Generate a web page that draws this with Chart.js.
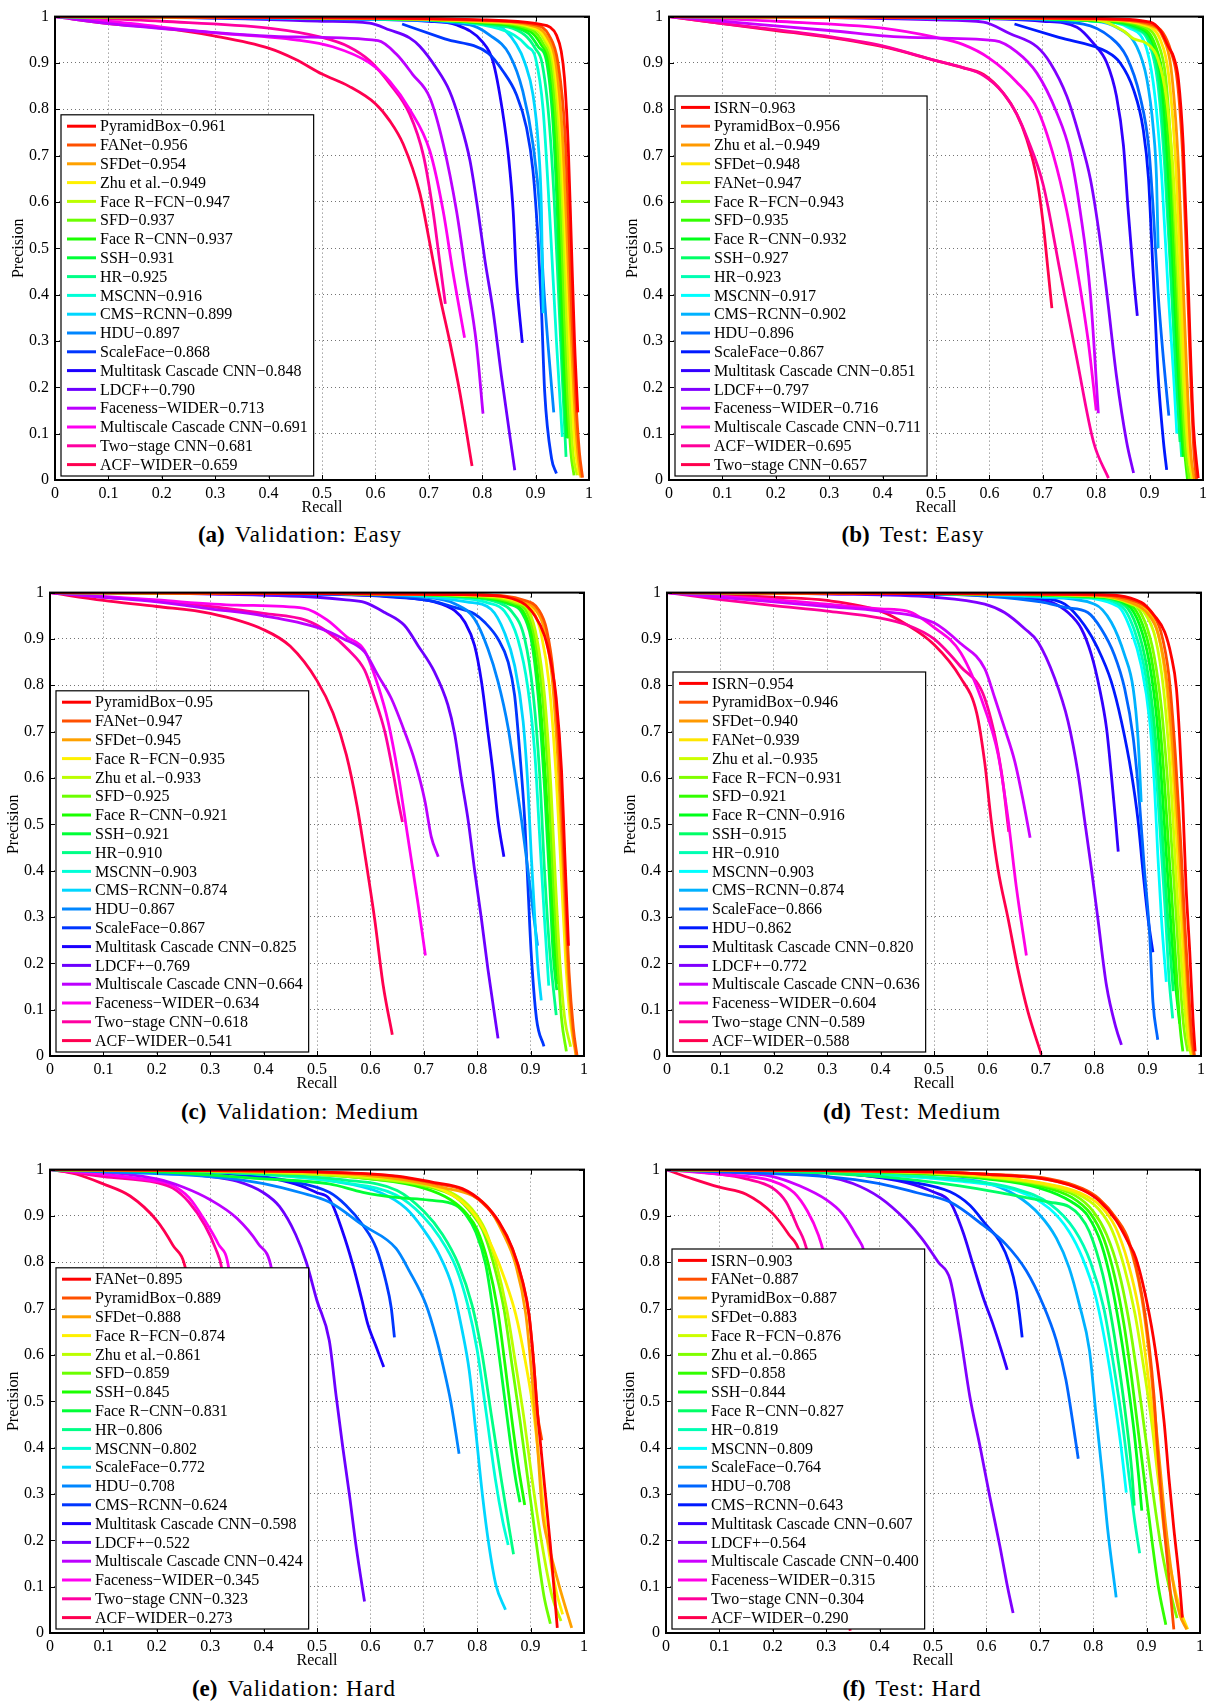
<!DOCTYPE html>
<html>
<head>
<meta charset="utf-8">
<script src="https://cdn.jsdelivr.net/npm/chart.js@4.4.1/dist/chart.umd.min.js"></script>
<style>
  body { margin: 0; background: #fff; width: 1208px; height: 1704px; position: relative; overflow: hidden; }
  canvas { position: absolute; }
  .cap { position: absolute; width: 600px; text-align: center; font-family: "Liberation Serif", "DejaVu Serif", serif;
         font-size: 23px; letter-spacing: 1px; color: #000; line-height: 28px; }
  .cap b { margin-right: 10px; letter-spacing: 0; }
</style>
</head>
<body>
<script>
// ---------- (a) Validation: Easy ----------
var valEasyNames = ['PyramidBox', 'FANet', 'SFDet', 'Zhu et al.', 'Face R\u2212FCN', 'SFD', 'Face R\u2212CNN', 'SSH', 'HR', 'MSCNN',
  'CMS\u2212RCNN', 'HDU', 'ScaleFace', 'Multitask Cascade CNN', 'LDCF+', 'Faceness\u2212WIDER', 'Multiscale Cascade CNN', 'Two\u2212stage CNN', 'ACF\u2212WIDER'];
var valEasyAP = ['0.961', '0.956', '0.954', '0.949', '0.947', '0.937', '0.937', '0.931', '0.925', '0.916',
  '0.899', '0.897', '0.868', '0.848', '0.790', '0.713', '0.691', '0.681', '0.659'];
var valEasyCurves = [
  [[0,1],[0.6,0.997],[0.8,0.993],[0.88,0.988],[0.91,0.983],[0.926,0.978],[0.939,0.96],[0.948,0.925],[0.954,0.868],[0.961,0.725],[0.967,0.51],[0.973,0.296],[0.979,0.146]],
  [[0,1],[0.6,0.997],[0.8,0.992],[0.9,0.982],[0.925,0.96],[0.942,0.9],[0.955,0.75],[0.962,0.55],[0.968,0.35],[0.975,0.18],[0.982,0.06],[0.988,0.005]],
  [[0,1],[0.6,0.997],[0.8,0.991],[0.9,0.978],[0.922,0.955],[0.938,0.9],[0.95,0.75],[0.958,0.55],[0.965,0.35],[0.972,0.18],[0.979,0.06],[0.985,0.005]],
  [[0,1],[0.6,0.997],[0.8,0.99],[0.9,0.975],[0.92,0.95],[0.935,0.9],[0.947,0.75],[0.955,0.55],[0.962,0.35],[0.968,0.18],[0.975,0.06],[0.982,0.01]],
  [[0,1],[0.6,0.996],[0.8,0.989],[0.9,0.972],[0.918,0.945],[0.932,0.9],[0.944,0.75],[0.952,0.55],[0.958,0.35],[0.964,0.18],[0.97,0.06],[0.978,0.01]],
  [[0,1],[0.6,0.996],[0.8,0.988],[0.895,0.97],[0.915,0.94],[0.928,0.9],[0.94,0.75],[0.948,0.55],[0.954,0.35],[0.96,0.18],[0.966,0.06],[0.972,0.01]],
  [[0,1],[0.6,0.996],[0.8,0.987],[0.89,0.968],[0.91,0.94],[0.925,0.9],[0.936,0.78],[0.943,0.6],[0.949,0.4],[0.955,0.22],[0.962,0.09]],
  [[0,1],[0.6,0.996],[0.8,0.986],[0.885,0.965],[0.905,0.935],[0.921,0.9],[0.932,0.78],[0.94,0.6],[0.946,0.4],[0.952,0.22],[0.958,0.09]],
  [[0,1],[0.6,0.995],[0.8,0.984],[0.88,0.96],[0.9,0.93],[0.912,0.9],[0.925,0.78],[0.935,0.6],[0.943,0.4],[0.95,0.22],[0.957,0.05]],
  [[0,1],[0.6,0.995],[0.8,0.982],[0.86,0.96],[0.885,0.935],[0.9,0.91],[0.914,0.8],[0.926,0.58],[0.939,0.3],[0.95,0.093]],
  [[0,1],[0.6,0.995],[0.75,0.99],[0.826,0.982],[0.864,0.94],[0.88,0.9],[0.895,0.832],[0.905,0.725],[0.911,0.58],[0.914,0.36]],
  [[0,1],[0.6,0.994],[0.777,0.982],[0.814,0.96],[0.851,0.918],[0.876,0.839],[0.895,0.725],[0.908,0.582],[0.914,0.44],[0.923,0.296],[0.934,0.146]],
  [[0.65,0.984],[0.73,0.952],[0.811,0.921],[0.839,0.882],[0.864,0.832],[0.883,0.76],[0.895,0.668],[0.905,0.51],[0.911,0.368],[0.917,0.19],[0.93,0.046],[0.939,0.014]],
  [[0,1],[0.5,0.995],[0.7,0.99],[0.752,0.982],[0.8,0.946],[0.82,0.904],[0.838,0.796],[0.85,0.69],[0.858,0.58],[0.864,0.44],[0.875,0.296]],
  [[0,1],[0.3,0.997],[0.5,0.99],[0.589,0.986],[0.627,0.971],[0.664,0.954],[0.683,0.936],[0.714,0.889],[0.739,0.839],[0.758,0.775],[0.777,0.69],[0.792,0.582],[0.805,0.475],[0.82,0.368],[0.836,0.225],[0.861,0.021]],
  [[0,1],[0.1,0.985],[0.25,0.97],[0.45,0.956],[0.605,0.948],[0.64,0.918],[0.67,0.875],[0.702,0.825],[0.727,0.725],[0.752,0.58],[0.77,0.44],[0.789,0.296],[0.8015,0.143]],
  [[0,1],[0.1,0.99],[0.3,0.965],[0.45,0.95],[0.52,0.935],[0.589,0.9],[0.627,0.86],[0.664,0.8],[0.702,0.71],[0.727,0.58],[0.745,0.45],[0.767,0.307]],
  [[0,1],[0.2,0.99],[0.4,0.975],[0.5,0.955],[0.55,0.935],[0.589,0.905],[0.627,0.855],[0.664,0.79],[0.69,0.7],[0.708,0.58],[0.72,0.475],[0.731,0.38]],
  [[0,1],[0.1,0.985],[0.2,0.975],[0.3,0.958],[0.4,0.932],[0.45,0.908],[0.5,0.876],[0.55,0.85],[0.6,0.812],[0.627,0.775],[0.652,0.725],[0.683,0.62],[0.702,0.51],[0.72,0.4],[0.739,0.3],[0.758,0.19],[0.781,0.03]]
];

// ---------- (b) Test: Easy ----------
var testEasyNames = ['ISRN', 'PyramidBox', 'Zhu et al.', 'SFDet', 'FANet', 'Face R\u2212FCN', 'SFD', 'Face R\u2212CNN', 'SSH', 'HR',
  'MSCNN', 'CMS\u2212RCNN', 'HDU', 'ScaleFace', 'Multitask Cascade CNN', 'LDCF+', 'Faceness\u2212WIDER', 'Multiscale Cascade CNN', 'ACF\u2212WIDER', 'Two\u2212stage CNN'];
var testEasyAP = ['0.963', '0.956', '0.949', '0.948', '0.947', '0.943', '0.935', '0.932', '0.927', '0.923',
  '0.917', '0.902', '0.896', '0.867', '0.851', '0.797', '0.716', '0.711', '0.695', '0.657'];
var testEasyCurves = [
  [[0,1],[0.6,0.998],[0.8,0.996],[0.901,0.988],[0.92,0.97],[0.935,0.935],[0.945,0.913],[0.954,0.864],[0.963,0.722],[0.97,0.509],[0.976,0.295],[0.982,0.118],[0.991,0.004]],
  [[0,1],[0.6,0.998],[0.8,0.995],[0.9,0.985],[0.925,0.965],[0.94,0.925],[0.952,0.86],[0.962,0.7],[0.97,0.45],[0.977,0.22],[0.983,0.06],[0.988,0.0]],
  [[0,1],[0.6,0.998],[0.8,0.995],[0.9,0.982],[0.925,0.955],[0.94,0.89],[0.953,0.7],[0.962,0.45],[0.97,0.22],[0.977,0.06],[0.984,0.0]],
  [[0,1],[0.6,0.998],[0.8,0.994],[0.895,0.98],[0.92,0.95],[0.935,0.88],[0.948,0.7],[0.958,0.45],[0.966,0.22],[0.974,0.06],[0.982,0.0]],
  [[0,1],[0.6,0.998],[0.8,0.993],[0.85,0.97],[0.87,0.952],[0.895,0.942],[0.915,0.91],[0.932,0.82],[0.945,0.65],[0.955,0.42],[0.963,0.22],[0.972,0.06],[0.98,0.0]],
  [[0,1],[0.6,0.998],[0.8,0.993],[0.89,0.978],[0.915,0.945],[0.93,0.87],[0.942,0.68],[0.952,0.43],[0.96,0.22],[0.968,0.06],[0.975,0.0]],
  [[0,1],[0.6,0.998],[0.8,0.992],[0.885,0.977],[0.91,0.94],[0.926,0.86],[0.938,0.68],[0.948,0.43],[0.957,0.22],[0.965,0.07],[0.971,0.0]],
  [[0,1],[0.6,0.998],[0.8,0.991],[0.88,0.976],[0.907,0.94],[0.922,0.86],[0.934,0.68],[0.945,0.43],[0.955,0.2],[0.963,0.05]],
  [[0,1],[0.6,0.997],[0.8,0.99],[0.875,0.975],[0.903,0.94],[0.918,0.86],[0.93,0.68],[0.941,0.43],[0.95,0.22],[0.957,0.082]],
  [[0,1],[0.6,0.997],[0.8,0.99],[0.87,0.975],[0.9,0.94],[0.915,0.86],[0.928,0.68],[0.94,0.43],[0.95,0.22],[0.96,0.05]],
  [[0,1],[0.6,0.997],[0.8,0.99],[0.863,0.975],[0.895,0.928],[0.91,0.828],[0.923,0.65],[0.935,0.402],[0.945,0.224],[0.951,0.1]],
  [[0,1],[0.6,0.997],[0.8,0.99],[0.838,0.977],[0.876,0.935],[0.895,0.864],[0.907,0.757],[0.913,0.65],[0.916,0.5]],
  [[0,1],[0.6,0.996],[0.776,0.984],[0.826,0.956],[0.857,0.913],[0.882,0.828],[0.898,0.722],[0.907,0.58],[0.916,0.402],[0.926,0.26],[0.936,0.139]],
  [[0.647,0.984],[0.73,0.955],[0.82,0.924],[0.845,0.9],[0.87,0.842],[0.888,0.757],[0.898,0.65],[0.904,0.509],[0.91,0.366],[0.916,0.224],[0.926,0.082],[0.932,0.022]],
  [[0,1],[0.5,0.997],[0.7,0.99],[0.764,0.977],[0.795,0.942],[0.82,0.9],[0.838,0.828],[0.851,0.722],[0.86,0.58],[0.87,0.438],[0.877,0.354]],
  [[0,1],[0.3,0.998],[0.5,0.993],[0.589,0.988],[0.639,0.963],[0.689,0.935],[0.714,0.9],[0.745,0.828],[0.77,0.736],[0.789,0.65],[0.804,0.544],[0.82,0.402],[0.838,0.224],[0.857,0.082],[0.87,0.015]],
  [[0,1],[0.1,0.99],[0.3,0.97],[0.45,0.955],[0.61,0.948],[0.651,0.924],[0.689,0.878],[0.726,0.793],[0.751,0.707],[0.77,0.58],[0.789,0.402],[0.804,0.144]],
  [[0,1],[0.2,0.99],[0.4,0.975],[0.5,0.955],[0.55,0.94],[0.6,0.91],[0.65,0.86],[0.69,0.8],[0.72,0.7],[0.745,0.58],[0.765,0.45],[0.785,0.3],[0.8,0.15]],
  [[0,1],[0.1,0.985],[0.2,0.972],[0.3,0.957],[0.4,0.937],[0.5,0.905],[0.55,0.89],[0.589,0.873],[0.626,0.835],[0.651,0.79],[0.67,0.74],[0.701,0.636],[0.732,0.452],[0.764,0.26],[0.795,0.082],[0.823,0.004]],
  [[0,1],[0.1,0.985],[0.2,0.97],[0.3,0.955],[0.4,0.935],[0.5,0.905],[0.55,0.89],[0.589,0.875],[0.626,0.835],[0.651,0.79],[0.67,0.735],[0.689,0.65],[0.701,0.55],[0.71,0.45],[0.717,0.371]]
];

// ---------- (c) Validation: Medium ----------
var valMediumNames = ['PyramidBox', 'FANet', 'SFDet', 'Face R\u2212FCN', 'Zhu et al.', 'SFD', 'Face R\u2212CNN', 'SSH', 'HR', 'MSCNN',
  'CMS\u2212RCNN', 'HDU', 'ScaleFace', 'Multitask Cascade CNN', 'LDCF+', 'Multiscale Cascade CNN', 'Faceness\u2212WIDER', 'Two\u2212stage CNN', 'ACF\u2212WIDER'];
var valMediumAP = ['0.95', '0.947', '0.945', '0.935', '0.933', '0.925', '0.921', '0.921', '0.910', '0.903',
  '0.874', '0.867', '0.867', '0.825', '0.769', '0.664', '0.634', '0.618', '0.541'];
var valMediumCurves = [
  [[0,1],[0.5,0.998],[0.8,0.995],[0.883,0.979],[0.908,0.95],[0.926,0.907],[0.939,0.843],[0.948,0.772],[0.958,0.615],[0.964,0.437],[0.971,0.238]],
  [[0,1],[0.5,0.998],[0.8,0.995],[0.89,0.983],[0.915,0.963],[0.93,0.92],[0.943,0.82],[0.955,0.62],[0.964,0.38],[0.972,0.18],[0.98,0.06],[0.987,0.0]],
  [[0,1],[0.5,0.998],[0.8,0.995],[0.885,0.982],[0.91,0.962],[0.926,0.92],[0.94,0.82],[0.952,0.62],[0.962,0.38],[0.97,0.18],[0.978,0.06],[0.985,0.0]],
  [[0,1],[0.5,0.998],[0.8,0.994],[0.88,0.98],[0.905,0.96],[0.92,0.91],[0.935,0.8],[0.948,0.6],[0.958,0.38],[0.966,0.2],[0.974,0.08],[0.982,0.02]],
  [[0,1],[0.5,0.998],[0.8,0.993],[0.875,0.978],[0.897,0.96],[0.912,0.9],[0.926,0.779],[0.938,0.58],[0.947,0.366],[0.955,0.2],[0.964,0.08],[0.975,0.02]],
  [[0,1],[0.5,0.998],[0.8,0.992],[0.87,0.977],[0.892,0.96],[0.908,0.9],[0.922,0.779],[0.934,0.58],[0.943,0.366],[0.951,0.2],[0.958,0.08],[0.967,0.01]],
  [[0,1],[0.5,0.998],[0.8,0.991],[0.865,0.976],[0.887,0.958],[0.904,0.9],[0.917,0.779],[0.929,0.58],[0.939,0.366],[0.946,0.224],[0.952,0.155]],
  [[0,1],[0.5,0.998],[0.8,0.99],[0.86,0.975],[0.883,0.958],[0.901,0.9],[0.914,0.779],[0.926,0.58],[0.936,0.366],[0.942,0.224],[0.949,0.142]],
  [[0,1],[0.5,0.998],[0.78,0.99],[0.84,0.978],[0.864,0.96],[0.889,0.9],[0.905,0.779],[0.917,0.608],[0.926,0.402],[0.936,0.224],[0.948,0.088]],
  [[0,1],[0.5,0.998],[0.75,0.99],[0.82,0.978],[0.851,0.96],[0.876,0.9],[0.895,0.793],[0.908,0.651],[0.917,0.473],[0.926,0.295],[0.934,0.152]],
  [[0,1],[0.5,0.998],[0.7,0.992],[0.78,0.98],[0.826,0.964],[0.851,0.914],[0.87,0.843],[0.886,0.722],[0.895,0.58],[0.901,0.437],[0.908,0.295],[0.914,0.188],[0.92,0.12]],
  [[0,1],[0.5,0.997],[0.7,0.99],[0.76,0.975],[0.795,0.943],[0.82,0.879],[0.839,0.808],[0.858,0.708],[0.87,0.615],[0.883,0.509],[0.895,0.402],[0.905,0.309],[0.913,0.238]],
  [[0,1],[0.5,0.997],[0.714,0.982],[0.758,0.968],[0.795,0.954],[0.814,0.936],[0.839,0.9],[0.858,0.85],[0.87,0.779],[0.88,0.651],[0.889,0.509],[0.895,0.366],[0.901,0.224],[0.911,0.081],[0.925,0.021]],
  [[0,1],[0.5,0.997],[0.65,0.99],[0.72,0.98],[0.758,0.961],[0.777,0.936],[0.795,0.886],[0.808,0.808],[0.82,0.7],[0.83,0.608],[0.839,0.509],[0.85,0.43]],
  [[0,1],[0.3,0.997],[0.5,0.99],[0.55,0.985],[0.589,0.979],[0.627,0.957],[0.664,0.929],[0.689,0.886],[0.72,0.829],[0.745,0.758],[0.758,0.694],[0.77,0.601],[0.783,0.509],[0.795,0.402],[0.808,0.295],[0.82,0.188],[0.839,0.038]],
  [[0,1],[0.1,0.99],[0.2,0.98],[0.3,0.965],[0.4,0.95],[0.5,0.925],[0.55,0.9],[0.589,0.872],[0.614,0.822],[0.639,0.772],[0.664,0.7],[0.683,0.637],[0.702,0.551],[0.714,0.473],[0.727,0.43]],
  [[0,1],[0.1,0.992],[0.2,0.984],[0.35,0.973],[0.476,0.966],[0.52,0.94],[0.555,0.905],[0.589,0.875],[0.614,0.8],[0.633,0.722],[0.652,0.608],[0.67,0.473],[0.689,0.33],[0.703,0.217]],
  [[0,1],[0.1,0.99],[0.2,0.983],[0.3,0.97],[0.4,0.955],[0.48,0.94],[0.52,0.915],[0.56,0.875],[0.589,0.833],[0.608,0.772],[0.627,0.7],[0.642,0.615],[0.652,0.551],[0.66,0.505]],
  [[0,1],[0.1,0.983],[0.2,0.97],[0.3,0.955],[0.4,0.92],[0.45,0.884],[0.5,0.81],[0.53,0.74],[0.555,0.65],[0.575,0.54],[0.589,0.44],[0.608,0.295],[0.624,0.152],[0.641,0.046]]
];

// ---------- (d) Test: Medium ----------
var testMediumNames = ['ISRN', 'PyramidBox', 'SFDet', 'FANet', 'Zhu et al.', 'Face R\u2212FCN', 'SFD', 'Face R\u2212CNN', 'SSH', 'HR',
  'MSCNN', 'CMS\u2212RCNN', 'ScaleFace', 'HDU', 'Multitask Cascade CNN', 'LDCF+', 'Multiscale Cascade CNN', 'Faceness\u2212WIDER', 'Two\u2212stage CNN', 'ACF\u2212WIDER'];
var testMediumAP = ['0.954', '0.946', '0.940', '0.939', '0.935', '0.931', '0.921', '0.916', '0.915', '0.910',
  '0.903', '0.874', '0.866', '0.862', '0.820', '0.772', '0.636', '0.604', '0.589', '0.588'];
var testMediumCurves = [
  [[0,1],[0.5,0.998],[0.8,0.996],[0.888,0.979],[0.913,0.95],[0.932,0.915],[0.944,0.865],[0.954,0.793],[0.96,0.687],[0.966,0.544],[0.972,0.366],[0.979,0.224],[0.985,0.081],[0.989,0.01]],
  [[0,1],[0.5,0.998],[0.8,0.995],[0.88,0.98],[0.905,0.96],[0.925,0.915],[0.94,0.82],[0.952,0.65],[0.962,0.46],[0.97,0.28],[0.977,0.14],[0.983,0.04],[0.988,0.0]],
  [[0,1],[0.5,0.998],[0.8,0.994],[0.87,0.978],[0.9,0.955],[0.92,0.91],[0.937,0.8],[0.95,0.62],[0.96,0.437],[0.968,0.28],[0.975,0.14],[0.981,0.04],[0.986,0.0]],
  [[0,1],[0.5,0.998],[0.8,0.994],[0.88,0.978],[0.905,0.955],[0.922,0.9],[0.936,0.79],[0.947,0.62],[0.956,0.437],[0.964,0.28],[0.971,0.14],[0.978,0.04],[0.984,0.0]],
  [[0,1],[0.5,0.998],[0.8,0.993],[0.87,0.975],[0.895,0.955],[0.915,0.9],[0.93,0.79],[0.942,0.62],[0.951,0.437],[0.959,0.28],[0.967,0.14],[0.975,0.04],[0.982,0.0]],
  [[0,1],[0.5,0.998],[0.8,0.993],[0.872,0.977],[0.895,0.937],[0.912,0.865],[0.926,0.75],[0.937,0.6],[0.946,0.437],[0.954,0.295],[0.961,0.16],[0.968,0.06],[0.975,0.01]],
  [[0,1],[0.5,0.998],[0.8,0.992],[0.867,0.975],[0.89,0.933],[0.907,0.86],[0.921,0.74],[0.931,0.6],[0.94,0.437],[0.948,0.295],[0.955,0.16],[0.961,0.06],[0.966,0.01]],
  [[0,1],[0.5,0.998],[0.8,0.991],[0.862,0.974],[0.885,0.93],[0.903,0.85],[0.917,0.73],[0.927,0.58],[0.935,0.437],[0.943,0.295],[0.951,0.17],[0.96,0.07]],
  [[0,1],[0.5,0.998],[0.8,0.99],[0.857,0.973],[0.88,0.925],[0.898,0.843],[0.912,0.722],[0.922,0.58],[0.93,0.437],[0.938,0.295],[0.948,0.14]],
  [[0,1],[0.5,0.998],[0.78,0.99],[0.85,0.972],[0.875,0.92],[0.893,0.843],[0.908,0.722],[0.918,0.58],[0.926,0.437],[0.934,0.295],[0.94,0.17],[0.947,0.081]],
  [[0,1],[0.5,0.998],[0.75,0.99],[0.845,0.97],[0.87,0.915],[0.888,0.843],[0.904,0.722],[0.913,0.58],[0.919,0.437],[0.926,0.295],[0.935,0.16]],
  [[0,1],[0.5,0.998],[0.7,0.99],[0.801,0.975],[0.832,0.936],[0.857,0.865],[0.873,0.793],[0.882,0.687],[0.888,0.548]],
  [[0,1],[0.5,0.997],[0.7,0.98],[0.745,0.968],[0.788,0.957],[0.813,0.922],[0.838,0.865],[0.857,0.793],[0.873,0.687],[0.885,0.544],[0.894,0.402],[0.904,0.259],[0.91,0.117],[0.919,0.035]],
  [[0,1],[0.5,0.997],[0.7,0.988],[0.745,0.975],[0.782,0.929],[0.807,0.879],[0.832,0.808],[0.851,0.722],[0.87,0.608],[0.882,0.509],[0.891,0.402],[0.901,0.295],[0.91,0.224]],
  [[0,1],[0.5,0.997],[0.65,0.99],[0.72,0.979],[0.751,0.957],[0.776,0.922],[0.795,0.865],[0.81,0.793],[0.823,0.708],[0.832,0.608],[0.84,0.509],[0.845,0.441]],
  [[0,1],[0.3,0.997],[0.5,0.99],[0.595,0.975],[0.632,0.957],[0.67,0.922],[0.695,0.893],[0.726,0.815],[0.751,0.722],[0.77,0.608],[0.782,0.509],[0.795,0.402],[0.807,0.295],[0.823,0.152],[0.841,0.06],[0.851,0.024]],
  [[0,1],[0.1,0.99],[0.2,0.98],[0.3,0.97],[0.4,0.96],[0.5,0.935],[0.55,0.89],[0.595,0.836],[0.614,0.772],[0.632,0.708],[0.651,0.637],[0.667,0.551],[0.68,0.471]],
  [[0,1],[0.1,0.992],[0.2,0.985],[0.3,0.975],[0.4,0.965],[0.45,0.96],[0.5,0.925],[0.55,0.87],[0.595,0.75],[0.62,0.651],[0.639,0.509],[0.654,0.366],[0.673,0.217]],
  [[0,1],[0.1,0.985],[0.2,0.972],[0.3,0.96],[0.4,0.945],[0.45,0.93],[0.5,0.9],[0.55,0.84],[0.595,0.772],[0.626,0.615],[0.64,0.484]],
  [[0,1],[0.1,0.995],[0.2,0.99],[0.3,0.983],[0.4,0.96],[0.45,0.93],[0.5,0.888],[0.55,0.816],[0.58,0.74],[0.595,0.633],[0.607,0.509],[0.62,0.402],[0.639,0.295],[0.657,0.188],[0.676,0.095],[0.701,0.003]]
];

// ---------- (e) Validation: Hard ----------
var valHardNames = ['FANet', 'PyramidBox', 'SFDet', 'Face R\u2212FCN', 'Zhu et al.', 'SFD', 'SSH', 'Face R\u2212CNN', 'HR', 'MSCNN',
  'ScaleFace', 'HDU', 'CMS\u2212RCNN', 'Multitask Cascade CNN', 'LDCF+', 'Multiscale Cascade CNN', 'Faceness\u2212WIDER', 'Two\u2212stage CNN', 'ACF\u2212WIDER'];
var valHardAP = ['0.895', '0.889', '0.888', '0.874', '0.861', '0.859', '0.845', '0.831', '0.806', '0.802',
  '0.772', '0.708', '0.624', '0.598', '0.522', '0.424', '0.345', '0.323', '0.273'];
var valHardCurves = [
  [[0,1],[0.3,0.998],[0.5,0.995],[0.65,0.986],[0.72,0.972],[0.772,0.959],[0.81,0.93],[0.841,0.887],[0.866,0.83],[0.885,0.759],[0.897,0.688],[0.906,0.581],[0.913,0.474],[0.919,0.403],[0.928,0.296],[0.937,0.189],[0.95,0.011]],
  [[0,1],[0.3,0.998],[0.5,0.995],[0.65,0.985],[0.72,0.97],[0.772,0.957],[0.81,0.928],[0.841,0.885],[0.866,0.828],[0.885,0.757],[0.897,0.686],[0.906,0.58],[0.913,0.474],[0.921,0.416]],
  [[0,1],[0.3,0.998],[0.5,0.994],[0.65,0.98],[0.74,0.96],[0.791,0.944],[0.822,0.916],[0.847,0.866],[0.872,0.795],[0.891,0.688],[0.903,0.546],[0.913,0.403],[0.922,0.261],[0.934,0.189],[0.953,0.104],[0.977,0.011]],
  [[0,1],[0.3,0.998],[0.5,0.993],[0.6,0.985],[0.7,0.97],[0.772,0.93],[0.804,0.887],[0.829,0.83],[0.853,0.759],[0.872,0.688],[0.891,0.581],[0.906,0.474],[0.916,0.368],[0.925,0.261],[0.935,0.17],[0.948,0.09],[0.96,0.04]],
  [[0,1],[0.3,0.997],[0.5,0.99],[0.6,0.982],[0.7,0.967],[0.76,0.945],[0.79,0.915],[0.815,0.87],[0.835,0.8],[0.855,0.7],[0.872,0.58],[0.888,0.46],[0.903,0.33],[0.92,0.2],[0.94,0.08],[0.957,0.026]],
  [[0,1],[0.3,0.997],[0.5,0.99],[0.6,0.98],[0.7,0.965],[0.76,0.94],[0.79,0.905],[0.81,0.87],[0.83,0.8],[0.85,0.7],[0.865,0.58],[0.88,0.46],[0.895,0.33],[0.91,0.2],[0.925,0.08],[0.937,0.02]],
  [[0,1],[0.3,0.997],[0.5,0.99],[0.6,0.98],[0.7,0.96],[0.75,0.935],[0.78,0.905],[0.8,0.87],[0.82,0.8],[0.838,0.7],[0.852,0.58],[0.865,0.46],[0.877,0.36],[0.889,0.276]],
  [[0,1],[0.2,0.995],[0.4,0.98],[0.523,0.969],[0.586,0.951],[0.648,0.94],[0.71,0.934],[0.76,0.923],[0.779,0.902],[0.797,0.866],[0.816,0.795],[0.835,0.652],[0.847,0.546],[0.863,0.403],[0.872,0.332],[0.88,0.282]],
  [[0,1],[0.2,0.998],[0.4,0.99],[0.55,0.978],[0.65,0.955],[0.7,0.91],[0.735,0.86],[0.765,0.795],[0.79,0.709],[0.808,0.61],[0.826,0.474],[0.845,0.332],[0.86,0.225],[0.868,0.17]],
  [[0,1],[0.2,0.998],[0.4,0.99],[0.55,0.972],[0.648,0.945],[0.698,0.9],[0.729,0.855],[0.76,0.79],[0.782,0.709],[0.8,0.61],[0.817,0.474],[0.834,0.332],[0.848,0.24],[0.858,0.19]],
  [[0,1],[0.2,0.998],[0.4,0.99],[0.523,0.976],[0.617,0.951],[0.667,0.916],[0.698,0.873],[0.729,0.816],[0.754,0.745],[0.772,0.652],[0.785,0.567],[0.797,0.439],[0.81,0.296],[0.822,0.189],[0.835,0.104],[0.853,0.05]],
  [[0,1],[0.1,0.995],[0.3,0.985],[0.4,0.97],[0.47,0.95],[0.523,0.93],[0.586,0.88],[0.648,0.83],[0.673,0.781],[0.704,0.709],[0.723,0.638],[0.738,0.567],[0.751,0.496],[0.766,0.387]],
  [[0,1],[0.2,0.998],[0.35,0.99],[0.45,0.975],[0.523,0.951],[0.554,0.923],[0.586,0.88],[0.611,0.83],[0.629,0.759],[0.639,0.702],[0.645,0.638]],
  [[0,1],[0.2,0.998],[0.35,0.99],[0.42,0.98],[0.47,0.965],[0.5,0.95],[0.523,0.937],[0.548,0.866],[0.567,0.795],[0.583,0.724],[0.595,0.667],[0.611,0.617],[0.625,0.574]],
  [[0,1],[0.2,0.995],[0.3,0.985],[0.35,0.975],[0.4,0.95],[0.43,0.92],[0.46,0.86],[0.48,0.8],[0.5,0.717],[0.523,0.631],[0.536,0.51],[0.548,0.403],[0.561,0.296],[0.573,0.189],[0.589,0.068]],
  [[0,1],[0.1,0.995],[0.2,0.98],[0.25,0.962],[0.3,0.935],[0.35,0.895],[0.39,0.84],[0.415,0.785],[0.435,0.6],[0.45,0.4],[0.46,0.2],[0.467,0.05]],
  [[0,1],[0.1,0.99],[0.2,0.975],[0.224,0.969],[0.26,0.94],[0.29,0.89],[0.315,0.84],[0.335,0.785],[0.35,0.6],[0.365,0.4],[0.375,0.2],[0.382,0.05]],
  [[0,1],[0.1,0.985],[0.2,0.972],[0.23,0.96],[0.26,0.93],[0.29,0.88],[0.31,0.83],[0.322,0.785],[0.34,0.6],[0.355,0.4],[0.365,0.2],[0.372,0.05]],
  [[0,1],[0.05,0.99],[0.1,0.969],[0.15,0.943],[0.2,0.89],[0.23,0.837],[0.255,0.78],[0.275,0.6],[0.29,0.4],[0.3,0.2],[0.31,0.05]]
];

// ---------- (f) Test: Hard ----------
var testHardNames = ['ISRN', 'FANet', 'PyramidBox', 'SFDet', 'Face R\u2212FCN', 'Zhu et al.', 'SFD', 'SSH', 'Face R\u2212CNN', 'HR',
  'MSCNN', 'ScaleFace', 'HDU', 'CMS\u2212RCNN', 'Multitask Cascade CNN', 'LDCF+', 'Multiscale Cascade CNN', 'Faceness\u2212WIDER', 'Two\u2212stage CNN', 'ACF\u2212WIDER'];
var testHardAP = ['0.903', '0.887', '0.887', '0.883', '0.876', '0.865', '0.858', '0.844', '0.827', '0.819',
  '0.809', '0.764', '0.708', '0.643', '0.607', '0.564', '0.400', '0.315', '0.304', '0.290'];
var testHardCurves = [
  [[0,1],[0.3,0.998],[0.5,0.995],[0.6,0.99],[0.718,0.978],[0.78,0.956],[0.811,0.933],[0.843,0.89],[0.867,0.84],[0.88,0.809],[0.905,0.688],[0.92,0.581],[0.933,0.453],[0.942,0.332],[0.951,0.225],[0.961,0.118],[0.967,0.033]],
  [[0,1],[0.3,0.998],[0.5,0.995],[0.6,0.99],[0.718,0.98],[0.78,0.959],[0.811,0.937],[0.843,0.895],[0.867,0.845],[0.892,0.724],[0.905,0.617],[0.914,0.51],[0.92,0.403],[0.93,0.261],[0.939,0.154],[0.951,0.008]],
  [[0,1],[0.3,0.998],[0.5,0.995],[0.6,0.99],[0.718,0.978],[0.78,0.957],[0.811,0.935],[0.843,0.893],[0.867,0.84],[0.89,0.73],[0.905,0.6],[0.915,0.48],[0.925,0.36],[0.935,0.24],[0.948,0.12],[0.962,0.04],[0.975,0.008]],
  [[0,1],[0.3,0.998],[0.5,0.993],[0.6,0.986],[0.7,0.972],[0.775,0.95],[0.815,0.92],[0.842,0.875],[0.865,0.8],[0.885,0.7],[0.9,0.58],[0.912,0.46],[0.922,0.34],[0.933,0.22],[0.948,0.12],[0.963,0.05],[0.977,0.008]],
  [[0,1],[0.3,0.998],[0.5,0.993],[0.6,0.985],[0.7,0.97],[0.77,0.948],[0.81,0.915],[0.835,0.87],[0.858,0.79],[0.878,0.69],[0.895,0.57],[0.91,0.45],[0.922,0.33],[0.932,0.25],[0.939,0.194]],
  [[0,1],[0.3,0.998],[0.5,0.992],[0.6,0.984],[0.7,0.968],[0.765,0.945],[0.8,0.91],[0.825,0.86],[0.848,0.78],[0.866,0.68],[0.882,0.56],[0.896,0.44],[0.91,0.32],[0.925,0.2],[0.942,0.1],[0.957,0.032]],
  [[0,1],[0.3,0.998],[0.5,0.99],[0.6,0.982],[0.7,0.965],[0.76,0.94],[0.795,0.905],[0.82,0.85],[0.84,0.77],[0.857,0.67],[0.872,0.55],[0.885,0.43],[0.898,0.31],[0.91,0.2],[0.922,0.1],[0.936,0.018]],
  [[0,1],[0.3,0.998],[0.5,0.99],[0.6,0.98],[0.7,0.96],[0.76,0.93],[0.79,0.9],[0.815,0.84],[0.835,0.75],[0.852,0.64],[0.866,0.53],[0.877,0.43],[0.885,0.34],[0.891,0.264]],
  [[0,1],[0.2,0.997],[0.4,0.985],[0.55,0.965],[0.65,0.945],[0.687,0.937],[0.718,0.93],[0.755,0.92],[0.775,0.9],[0.793,0.866],[0.818,0.773],[0.836,0.667],[0.852,0.546],[0.864,0.439],[0.872,0.353],[0.877,0.275]],
  [[0,1],[0.2,0.998],[0.4,0.99],[0.55,0.978],[0.65,0.96],[0.72,0.925],[0.765,0.87],[0.795,0.8],[0.82,0.7],[0.838,0.58],[0.855,0.45],[0.868,0.33],[0.878,0.24],[0.887,0.172]],
  [[0,1],[0.2,0.998],[0.4,0.99],[0.55,0.975],[0.656,0.955],[0.718,0.916],[0.755,0.866],[0.78,0.809],[0.805,0.724],[0.824,0.617],[0.839,0.51],[0.852,0.403],[0.862,0.303]],
  [[0,1],[0.2,0.998],[0.4,0.99],[0.5,0.982],[0.594,0.973],[0.656,0.944],[0.7,0.902],[0.731,0.852],[0.755,0.788],[0.774,0.709],[0.793,0.61],[0.805,0.474],[0.818,0.332],[0.827,0.225],[0.843,0.077]],
  [[0,1],[0.1,0.995],[0.3,0.985],[0.4,0.97],[0.47,0.95],[0.532,0.93],[0.594,0.88],[0.637,0.838],[0.675,0.781],[0.706,0.709],[0.731,0.631],[0.749,0.546],[0.762,0.453],[0.772,0.376]],
  [[0,1],[0.2,0.998],[0.35,0.99],[0.45,0.975],[0.532,0.952],[0.569,0.923],[0.6,0.88],[0.625,0.845],[0.644,0.795],[0.656,0.738],[0.662,0.688],[0.667,0.638]],
  [[0,1],[0.2,0.998],[0.35,0.99],[0.45,0.972],[0.5,0.952],[0.532,0.93],[0.556,0.866],[0.575,0.795],[0.594,0.724],[0.612,0.667],[0.628,0.61],[0.639,0.568]],
  [[0,1],[0.2,0.995],[0.3,0.985],[0.35,0.97],[0.4,0.94],[0.45,0.89],[0.48,0.85],[0.51,0.8],[0.532,0.763],[0.55,0.652],[0.569,0.51],[0.588,0.403],[0.606,0.296],[0.625,0.189],[0.64,0.097],[0.65,0.043]],
  [[0,1],[0.1,0.995],[0.2,0.985],[0.25,0.965],[0.3,0.935],[0.33,0.905],[0.355,0.86],[0.372,0.82],[0.39,0.7],[0.41,0.5],[0.425,0.3],[0.44,0.12],[0.45,0.03]],
  [[0,1],[0.1,0.99],[0.2,0.975],[0.24,0.95],[0.265,0.91],[0.285,0.86],[0.295,0.82],[0.31,0.7],[0.33,0.5],[0.345,0.3],[0.36,0.12],[0.37,0.03]],
  [[0,1],[0.1,0.99],[0.15,0.98],[0.2,0.96],[0.225,0.93],[0.245,0.88],[0.265,0.82],[0.28,0.7],[0.3,0.5],[0.315,0.3],[0.33,0.12],[0.34,0.02]],
  [[0,1],[0.05,0.98],[0.1,0.962],[0.15,0.947],[0.2,0.905],[0.23,0.86],[0.25,0.822],[0.27,0.7],[0.29,0.5],[0.31,0.3],[0.33,0.12],[0.345,0.005]]
];

var panels = [
  { tag: '(a)', title: 'Validation: Easy',  names: valEasyNames,    ap: valEasyAP,    curves: valEasyCurves,    left: 55,  top: 13,   capX: 300, capY: 535 },
  { tag: '(b)', title: 'Test: Easy',        names: testEasyNames,   ap: testEasyAP,   curves: testEasyCurves,   left: 669, top: 13,   capX: 913, capY: 535 },
  { tag: '(c)', title: 'Validation: Medium', names: valMediumNames, ap: valMediumAP,  curves: valMediumCurves,  left: 50,  top: 589,  capX: 300, capY: 1112 },
  { tag: '(d)', title: 'Test: Medium',      names: testMediumNames, ap: testMediumAP, curves: testMediumCurves, left: 667, top: 589,  capX: 912, capY: 1112 },
  { tag: '(e)', title: 'Validation: Hard',  names: valHardNames,    ap: valHardAP,    curves: valHardCurves,    left: 50,  top: 1166, capX: 294, capY: 1689 },
  { tag: '(f)', title: 'Test: Hard',        names: testHardNames,   ap: testHardAP,   curves: testHardCurves,   left: 666, top: 1166, capX: 912, capY: 1689 }
];

var PLOT_W = 534, PLOT_H = 467;   // axes box size
var Y_W = 55, X_H = 40, PAD_T = 12, PAD_R = 12;
var FONT = '"Liberation Serif", "DejaVu Serif", serif';

// matlab-style hsv(n) colormap
function hsvColor(i, n) {
  return 'hsl(' + (i * 360 / n).toFixed(1) + ', 100%, 50%)';
}

function tickText(v) {
  var r = Math.round(v * 10) / 10;
  return (r === 0 || r === 1) ? String(r) : r.toFixed(1);
}

// box around the axes with inward tick marks on all four sides
var axesBox = {
  id: 'axesBox',
  afterDatasetsDraw: function (chart) {
    var ctx = chart.ctx, a = chart.chartArea, sx = chart.scales.x, sy = chart.scales.y;
    ctx.save();
    ctx.strokeStyle = '#000';
    ctx.lineWidth = 1;
    ctx.beginPath();
    sx.ticks.forEach(function (t) {
      var px = Math.round(sx.getPixelForValue(t.value)) + 0.5;
      ctx.moveTo(px, a.bottom); ctx.lineTo(px, a.bottom - 5);
      ctx.moveTo(px, a.top); ctx.lineTo(px, a.top + 5);
    });
    sy.ticks.forEach(function (t) {
      var py = Math.round(sy.getPixelForValue(t.value)) + 0.5;
      ctx.moveTo(a.left, py); ctx.lineTo(a.left + 5, py);
      ctx.moveTo(a.right, py); ctx.lineTo(a.right - 5, py);
    });
    ctx.stroke();
    ctx.lineWidth = 2;
    ctx.strokeRect(a.left, a.top, a.right - a.left, a.bottom - a.top);
    ctx.restore();
  }
};

// legend box in the lower left corner of the axes, drawn over the curves
var boxLegend = {
  id: 'boxLegend',
  afterDatasetsDraw: function (chart, args, opts) {
    var ctx = chart.ctx, a = chart.chartArea, sets = chart.data.datasets;
    ctx.save();
    ctx.font = opts.fontSize + 'px ' + FONT;
    var tw = 0;
    sets.forEach(function (d) { tw = Math.max(tw, ctx.measureText(d.label).width); });
    var w = opts.textX + tw + 6;
    var h = sets.length * opts.rowH + 4;
    var x = a.left + 6;
    var y = a.bottom - 4 - h;
    ctx.fillStyle = '#fff';
    ctx.fillRect(x, y, w, h);
    ctx.strokeStyle = '#000';
    ctx.lineWidth = 1.2;
    ctx.strokeRect(x, y, w, h);
    ctx.textBaseline = 'middle';
    sets.forEach(function (d, i) {
      var cy = y + 2 + opts.rowH * (i + 0.5);
      ctx.strokeStyle = d.borderColor;
      ctx.lineWidth = 3;
      ctx.beginPath();
      ctx.moveTo(x + 6, cy); ctx.lineTo(x + 35, cy);
      ctx.stroke();
      ctx.fillStyle = '#000';
      ctx.fillText(d.label, x + opts.textX, cy + 1);
    });
    ctx.restore();
  }
};

function axisOptions(title, isX) {
  return {
    type: 'linear', min: 0, max: 1,
    ticks: {
      stepSize: 0.1, color: '#000', maxRotation: 0, autoSkip: false,
      padding: isX ? 4 : 6,
      font: { family: FONT, size: 16 },
      callback: tickText
    },
    grid: { color: 'rgba(0,0,0,0.55)', lineWidth: 1, drawTicks: false },
    border: { display: false, dash: [1, 3] },
    title: {
      display: true, text: title, color: '#000',
      font: { family: FONT, size: 16 },
      padding: isX ? { top: 0, bottom: 3 } : { top: 9, bottom: 0 }
    },
    afterFit: function (s) { if (isX) s.height = X_H; else s.width = Y_W; }
  };
}

panels.forEach(function (p) {
  var cv = document.createElement('canvas');
  var W = Y_W + PLOT_W + PAD_R, H = PAD_T + PLOT_H + X_H;
  cv.width = W; cv.height = H;
  cv.style.width = W + 'px'; cv.style.height = H + 'px';
  cv.style.left = (p.left - Y_W) + 'px';
  cv.style.top = (p.top - PAD_T) + 'px';
  document.body.appendChild(cv);

  var n = p.names.length;
  var datasets = p.names.map(function (name, i) {
    return {
      label: name + '\u2212' + p.ap[i],
      data: p.curves[i].map(function (pt) { return { x: pt[0], y: pt[1] }; }),
      borderColor: hsvColor(i, n),
      borderWidth: 2.8,
      pointRadius: 0,
      fill: false,
      cubicInterpolationMode: 'monotone'
    };
  });

  new Chart(cv, {
    type: 'line',
    data: { datasets: datasets },
    options: {
      responsive: false,
      animation: false,
      devicePixelRatio: 1,
      layout: { padding: { left: 0, right: PAD_R, top: PAD_T, bottom: 0 } },
      scales: { x: axisOptions('Recall', true), y: axisOptions('Precision', false) },
      plugins: {
        legend: { display: false },
        tooltip: { enabled: false },
        boxLegend: { rowH: 18.8, textX: 39, fontSize: 16 }
      }
    },
    plugins: [axesBox, boxLegend]
  });

  var cap = document.createElement('div');
  cap.className = 'cap';
  cap.style.left = (p.capX - 300) + 'px';
  cap.style.top = (p.capY - 14) + 'px';
  cap.innerHTML = '<b>' + p.tag + '</b>' + p.title;
  document.body.appendChild(cap);
});
</script>
</body>
</html>
